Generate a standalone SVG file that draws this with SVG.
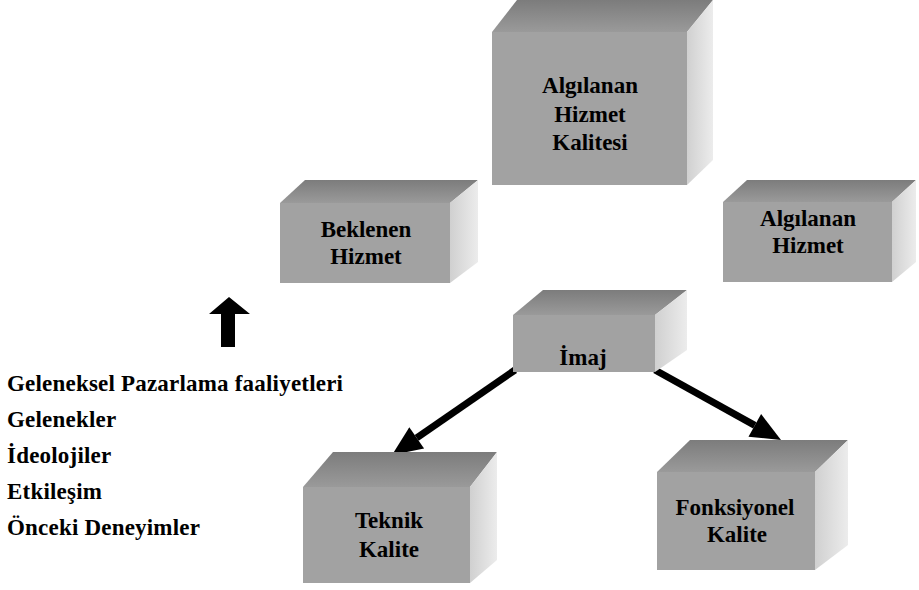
<svg xmlns="http://www.w3.org/2000/svg" width="919" height="590" viewBox="0 0 919 590">
<style>
  .front { fill: #a2a2a2; }
  .top { fill: url(#gTop); }
  .side { fill: url(#gSide); }
  .lbl { font-family: "Liberation Serif", "DejaVu Serif", serif; font-weight: bold; font-size: 23px; fill: #000; text-anchor: middle; }
  .lst { font-family: "Liberation Serif", "DejaVu Serif", serif; font-weight: bold; font-size: 23px; letter-spacing: 0.2px; fill: #000; }
  .conn { stroke: #000; stroke-width: 7; fill: none; marker-end: url(#head); }
</style>
<defs>
  <linearGradient id="gTop" x1="0" y1="0" x2="0" y2="1">
    <stop offset="0" stop-color="#7c7c7c"/>
    <stop offset="1" stop-color="#9a9a9a"/>
  </linearGradient>
  <linearGradient id="gSide" x1="0" y1="0" x2="1" y2="0">
    <stop offset="0" stop-color="#d0d0d0"/>
    <stop offset="1" stop-color="#ececec"/>
  </linearGradient>
  <marker id="head" markerUnits="userSpaceOnUse" markerWidth="32" markerHeight="28" viewBox="0 -14 32 28" refX="0" refY="0" orient="auto" overflow="visible">
    <path d="M0,-13 L30,0 L0,13 Z" fill="#000"/>
  </marker>
</defs>
<rect width="919" height="590" fill="#fff"/>

<g id="connectors">
  <line class="conn" x1="515" y1="370" x2="416.7" y2="437.9"/>
  <line class="conn" x1="655" y1="370" x2="754.8" y2="425.4"/>
  <polygon points="229,297 250,314 235,314 235,347 221,347 221,314 209,314" fill="#000"/>
</g>

<g id="algilanan-hizmet-kalitesi">
  <polygon class="top" points="492,32 517,0 713,0 687,32"/>
  <polygon class="side" points="687,32 713,0 713,160 687,185"/>
  <rect class="front" x="492" y="32" width="195" height="153"/>
  <text class="lbl" x="590" y="93">Algılanan</text>
  <text class="lbl" x="590" y="122">Hizmet</text>
  <text class="lbl" x="590" y="150">Kalitesi</text>
</g>

<g id="beklenen-hizmet">
  <polygon class="top" points="280,203 305,180 478,180 450,203"/>
  <polygon class="side" points="450,203 478,180 478,262 450,283"/>
  <rect class="front" x="280" y="203" width="170" height="80"/>
  <text class="lbl" x="366" y="237">Beklenen</text>
  <text class="lbl" x="366" y="264">Hizmet</text>
</g>

<g id="algilanan-hizmet">
  <polygon class="top" points="723,202 747,180 916,180 892,202"/>
  <polygon class="side" points="892,202 916,180 916,262 892,282"/>
  <rect class="front" x="723" y="202" width="169" height="80"/>
  <text class="lbl" x="808" y="226">Algılanan</text>
  <text class="lbl" x="808" y="253">Hizmet</text>
</g>

<g id="imaj">
  <polygon class="top" points="513,315 543,290 687,290 655,315"/>
  <polygon class="side" points="655,315 687,290 687,350 655,372"/>
  <rect class="front" x="513" y="315" width="142" height="57"/>
  <text class="lbl" x="583" y="365">İmaj</text>
</g>

<g id="teknik-kalite">
  <polygon class="top" points="303,487 333,452 497,452 470,487"/>
  <polygon class="side" points="470,487 497,452 497,560 470,583"/>
  <rect class="front" x="303" y="487" width="167" height="96"/>
  <text class="lbl" x="389" y="528">Teknik</text>
  <text class="lbl" x="389" y="557">Kalite</text>
</g>

<g id="fonksiyonel-kalite">
  <polygon class="top" points="657,472 690,440 848,440 815,472"/>
  <polygon class="side" points="815,472 848,440 848,545 815,570"/>
  <rect class="front" x="657" y="472" width="158" height="98"/>
  <text class="lbl" x="735" y="515">Fonksiyonel</text>
  <text class="lbl" x="737" y="542">Kalite</text>
</g>

<g id="factors">
  <text class="lst" x="7" y="391">Geleneksel Pazarlama faaliyetleri</text>
  <text class="lst" x="7" y="427">Gelenekler</text>
  <text class="lst" x="7" y="463">İdeolojiler</text>
  <text class="lst" x="7" y="499">Etkileşim</text>
  <text class="lst" x="7" y="535">Önceki Deneyimler</text>
</g>
</svg>
